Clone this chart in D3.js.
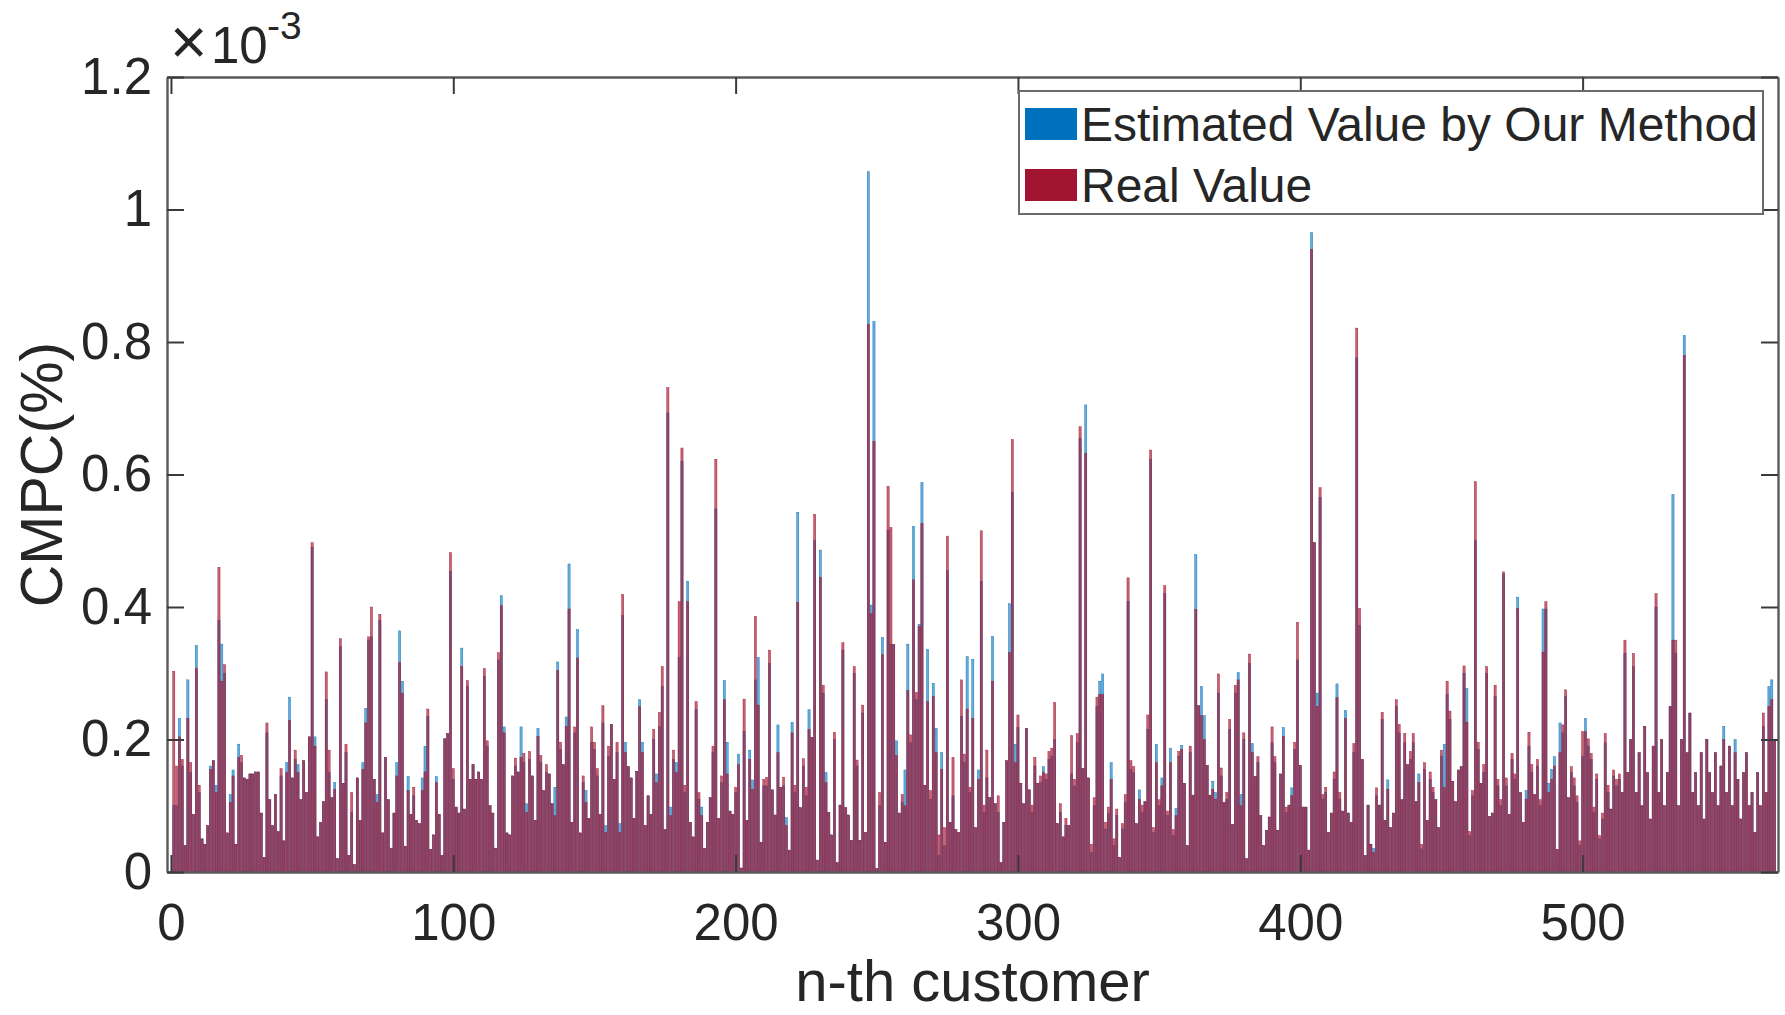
<!DOCTYPE html>
<html><head><meta charset="utf-8">
<script src="https://cdn.jsdelivr.net/npm/d3@7"></script>
<style>
body{margin:0;background:#fff}
svg{display:block}
text{font-family:"Liberation Sans",Arial,Helvetica,sans-serif;fill:#262626}
</style>
</head><body>
<svg id="chart" width="1785" height="1015"></svg>
<script>
// CMPC values (x 10^-3) for customers 1..568
const estimated = [
.10,.10,.232,.16,.04,.29,.15,.087,.342,.12,
.05,.042,.07,.16,.168,.131,.38,.344,.30,.059,
.117,.154,.042,.193,.165,.142,.14,.148,.148,.151,
.151,.089,.022,.21,.109,.07,.117,.061,.145,.047,
.165,.264,.142,.17,.162,.109,.168,.12,.204,.49,
.204,.053,.075,.106,.26,.15,.112,.135,.02,.34,
.134,.18,.025,.09,.011,.142,.078,.165,.247,.35,
.355,.14,.117,.38,.059,.173,.109,.036,.089,.165,
.364,.288,.039,.144,.087,.115,.078,.073,.142,.19,
.235,.034,.056,.144,.087,.025,.201,.209,.454,.14,
.098,.089,.338,.095,.28,.14,.162,.14,.151,.14,
.295,.19,.10,.089,.036,.32,.417,.219,.059,.056,
.145,.16,.151,.219,.165,.103,.17,.145,.078,.217,
.165,.123,.15,.148,.103,.128,.317,.185,.162,.234,
.465,.075,.21,.366,.059,.135,.123,.081,.196,.185,
.145,.087,.225,.07,.175,.223,.14,.18,.073,.387,
.196,.159,.142,.081,.152,.26,.196,.07,.115,.087,
.20,.148,.22,.28,.064,.693,.098,.17,.165,.324,
.62,.12,.439,.075,.053,.245,.11,.098,.036,.075,
.112,.18,.548,.081,.135,.289,.196,.092,.087,.12,
.178,.006,.212,.078,.184,.139,.29,.324,.045,.13,
.13,.315,.124,.086,.222,.128,.13,.082,.033,.226,
.12,.543,.097,.16,.115,.245,.203,.50,.018,.486,
.27,.15,.09,.056,.20,.014,.101,.335,.097,.086,
.048,.30,.16,.048,.24,.06,1.057,.403,.831,.005,
.10,.354,.045,.516,.344,.343,.198,.089,.105,.154,
.344,.195,.522,.26,.374,.588,.131,.336,.11,.285,
.217,.025,.18,.04,.455,.075,.115,.064,.06,.235,
.165,.325,.12,.321,.067,.154,.439,.09,.142,.112,
.356,.103,.09,.014,.075,.168,.405,.573,.193,.218,
.134,.103,.217,.124,.09,.16,.134,.135,.159,.14,
.17,.175,.20,.073,.09,.053,.07,.07,.148,.13,
.195,.654,.156,.705,.142,.03,.10,.25,.288,.299,
.065,.088,.165,.04,.085,.022,.065,.105,.408,.155,
.15,.073,.124,.09,.106,.215,.623,.06,.193,.10,
.142,.42,.085,.187,.055,.096,.175,.191,.134,.04,
.18,.116,.479,.251,.28,.236,.161,.116,.137,.12,
.27,.145,.105,.11,.215,.072,.27,.301,.117,.20,
.02,.315,.194,.144,.165,.085,.04,.063,.083,.195,
.165,.063,.148,.218,.09,.101,.127,.185,.32,.161,
.098,.098,.033,.965,.497,.27,.565,.11,.12,.06,
.089,.14,.284,.11,.092,.244,.089,.075,.18,.776,
.372,.17,.025,.101,.042,.036,.115,.101,.23,.078,
.139,.067,.089,.25,.21,.109,.195,.162,.17,.195,
.106,.148,.035,.155,.078,.14,.12,.109,.067,.175,
.193,.268,.23,.137,.106,.154,.159,.30,.277,.055,
.115,.50,.185,.134,.15,.30,.084,.089,.265,.13,
.10,.45,.13,.087,.17,.14,.415,.12,.075,.123,
.19,.15,.117,.16,.10,.397,.397,.134,.155,.174,
.034,.225,.21,.265,.112,.15,.13,.105,.04,.175,
.232,.19,.17,.09,.14,.05,.08,.195,.12,.095,
.145,.13,.14,.12,.33,.15,.20,.31,.12,.18,
.10,.22,.15,.08,.19,.40,.12,.20,.10,.15,
.25,.57,.33,.10,.20,.81,.18,.24,.12,.15,
.10,.18,.08,.20,.15,.12,.18,.10,.16,.22,
.12,.19,.10,.20,.14,.08,.15,.18,.10,.12,
.06,.15,.10,.22,.12,.28,.29,.20
];
const real = [
.303,.16,.204,.17,.04,.232,.165,.087,.307,.131,
.05,.042,.07,.155,.168,.12,.46,.288,.313,.059,
.105,.145,.042,.173,.176,.142,.14,.148,.148,.151,
.151,.089,.022,.225,.109,.07,.117,.061,.156,.047,
.15,.229,.142,.184,.15,.109,.168,.12,.204,.497,
.19,.053,.075,.106,.302,.184,.112,.125,.02,.352,
.134,.193,.025,.12,.011,.142,.078,.155,.225,.355,
.40,.14,.105,.389,.059,.173,.109,.036,.089,.145,
.316,.27,.039,.123,.087,.128,.078,.073,.123,.151,
.246,.034,.056,.135,.087,.025,.201,.209,.482,.156,
.098,.089,.31,.095,.289,.14,.162,.14,.151,.14,
.307,.198,.10,.089,.036,.331,.402,.21,.059,.056,
.145,.172,.151,.173,.179,.09,.182,.145,.078,.205,
.176,.123,.162,.148,.103,.085,.304,.196,.162,.22,
.397,.075,.219,.323,.059,.145,.105,.081,.219,.196,
.156,.087,.251,.06,.19,.223,.14,.196,.06,.419,
.18,.159,.142,.081,.152,.25,.18,.07,.115,.087,
.215,.135,.241,.31,.064,.731,.085,.184,.15,.408,
.64,.131,.408,.075,.053,.257,.12,.085,.036,.075,
.112,.19,.623,.081,.145,.26,.148,.092,.087,.128,
.162,.006,.261,.078,.17,.125,.386,.252,.045,.14,
.143,.335,.124,.086,.18,.128,.143,.07,.033,.21,
.131,.407,.097,.171,.128,.215,.203,.54,.018,.445,
.282,.135,.09,.056,.211,.014,.101,.346,.097,.086,
.048,.31,.169,.048,.252,.06,.827,.39,.65,.005,
.12,.328,.045,.582,.52,.343,.176,.089,.117,.10,
.274,.207,.441,.271,.371,.526,.131,.257,.123,.265,
.18,.056,.155,.067,.507,.075,.173,.064,.06,.29,
.178,.246,.128,.232,.067,.14,.515,.101,.184,.112,
.288,.103,.115,.014,.075,.168,.331,.653,.165,.237,
.134,.103,.217,.124,.101,.173,.134,.145,.15,.148,
.182,.187,.256,.073,.103,.053,.081,.07,.206,.14,
.209,.672,.156,.632,.142,.042,.112,.264,.268,.268,
.075,.098,.14,.05,.095,.022,.073,.117,.444,.168,
.159,.073,.11,.101,.106,.237,.637,.067,.165,.109,
.13,.432,.092,.165,.064,.085,.182,.185,.134,.04,
.19,.116,.396,.251,.236,.20,.161,.116,.125,.11,
.299,.157,.105,.12,.23,.072,.282,.29,.10,.21,
.02,.329,.18,.144,.174,.085,.04,.063,.083,.219,
.174,.063,.148,.205,.098,.101,.115,.196,.377,.161,
.098,.098,.033,.94,.497,.25,.58,.117,.128,.06,
.089,.151,.263,.12,.092,.232,.089,.075,.194,.821,
.398,.17,.025,.101,.042,.03,.127,.101,.241,.078,
.125,.067,.089,.26,.223,.109,.209,.162,.182,.209,
.106,.135,.042,.165,.078,.151,.128,.109,.067,.184,
.128,.288,.243,.137,.106,.154,.159,.311,.226,.061,
.123,.589,.196,.134,.162,.31,.084,.089,.282,.14,
.109,.453,.142,.087,.179,.148,.398,.12,.075,.11,
.211,.162,.117,.17,.109,.332,.408,.12,.14,.16,
.034,.18,.222,.275,.112,.159,.142,.115,.047,.212,
.212,.201,.179,.098,.148,.055,.089,.209,.131,.095,
.154,.14,.148,.12,.35,.15,.20,.33,.12,.18,
.10,.22,.15,.08,.19,.42,.12,.20,.10,.15,
.25,.35,.35,.10,.20,.78,.18,.24,.12,.15,
.10,.18,.08,.20,.15,.12,.18,.10,.16,.20,
.12,.19,.10,.18,.14,.08,.15,.18,.10,.12,
.06,.15,.10,.24,.12,.25,.26,.20
];
const xTicks = [0, 100, 200, 300, 400, 500];
const yTicks = [0, 0.2, 0.4, 0.6, 0.8, 1, 1.2];
const yTickLabels = ["0", "0.2", "0.4", "0.6", "0.8", "1", "1.2"];
const seriesNames = ["Estimated Value by Our Method", "Real Value"];
const seriesColors = ["#0072BD", "#A2142F"];

const svg = d3.select("#chart");
const L = 167, R = 1778, T = 77, B = 872;
const x = d3.scaleLinear().domain([-1.4, 569.2]).range([L, R]);
const y = d3.scaleLinear().domain([0, 1.2]).range([B, T]);
const step = x(1) - x(0);
const bw = step * 0.78;

const data = estimated.map((e, i) => ({i: i + 1, est: e, real: real[i]}));

const gBars = svg.append("g");
gBars.selectAll("rect.est").data(data).join("rect")
  .attr("class", "est")
  .attr("x", d => x(d.i) - bw / 2).attr("width", bw)
  .attr("y", d => y(d.est)).attr("height", d => y(0) - y(d.est))
  .attr("fill", seriesColors[0]).attr("fill-opacity", 0.6)
  .attr("stroke", seriesColors[0]).attr("stroke-width", 0.4);
gBars.selectAll("rect.real").data(data).join("rect")
  .attr("class", "real")
  .attr("x", d => x(d.i) - bw / 2).attr("width", bw)
  .attr("y", d => y(d.real)).attr("height", d => y(0) - y(d.real))
  .attr("fill", seriesColors[1]).attr("fill-opacity", 0.66)
  .attr("stroke", seriesColors[1]).attr("stroke-width", 0.4);

const axisColor = "#5a5a5a";
function styleAxis(g) {
  g.selectAll("path.domain").attr("stroke", axisColor).attr("stroke-width", 2.4);
  g.selectAll(".tick line").attr("stroke", "#3a3a3a").attr("stroke-width", 2);
  g.selectAll(".tick text").attr("fill", "#1a1a1a")
    .style("font-family", '"Liberation Sans", Arial, sans-serif').style("font-size", "51px");
}
svg.append("g").attr("transform", `translate(0,${B})`)
  .call(d3.axisBottom(x).tickValues(xTicks).tickSizeInner(-17).tickSizeOuter(0).tickPadding(32))
  .call(styleAxis);
svg.append("g").attr("transform", `translate(0,${T})`)
  .call(d3.axisTop(x).tickValues(xTicks).tickSizeInner(-17).tickSizeOuter(0).tickFormat(""))
  .call(styleAxis);
svg.append("g").attr("transform", `translate(${L},0)`)
  .call(d3.axisLeft(y).tickValues(yTicks).tickSizeInner(-17).tickSizeOuter(0).tickPadding(15)
    .tickFormat((d, i) => yTickLabels[i]))
  .call(styleAxis);
svg.append("g").attr("transform", `translate(${R},0)`)
  .call(d3.axisRight(y).tickValues(yTicks).tickSizeInner(-17).tickSizeOuter(0).tickFormat(""))
  .call(styleAxis);

// exponent label
svg.append("text").attr("x", 170).attr("y", 64).style("font-size", "64px").attr("fill", "#1a1a1a").text("×");
svg.append("text").attr("x", 211).attr("y", 63).style("font-size", "51px").attr("fill", "#1a1a1a").text("10");
svg.append("text").attr("x", 267).attr("y", 39).style("font-size", "39px").attr("fill", "#1a1a1a").text("-3");

// axis labels
svg.append("text").attr("x", (L + R) / 2).attr("y", 1001).attr("text-anchor", "middle")
  .style("font-size", "58px").attr("fill", "#1a1a1a").text("n-th customer");
svg.append("text").attr("transform", `translate(62,${(T + B) / 2}) rotate(-90)`).attr("text-anchor", "middle")
  .style("font-size", "59px").attr("fill", "#1a1a1a").text("CMPC(%)");

// legend
const lg = svg.append("g");
lg.append("rect").attr("x", 1019).attr("y", 91).attr("width", 744).attr("height", 123)
  .attr("fill", "#fff").attr("stroke", "#6a6a6a").attr("stroke-width", 2);
seriesNames.forEach((name, k) => {
  const cy = 124 + k * 61;
  lg.append("rect").attr("x", 1025).attr("y", cy - 16).attr("width", 52).attr("height", 32)
    .attr("fill", seriesColors[k]);
  lg.append("text").attr("x", 1081).attr("y", cy + 17).style("font-size", "48px")
    .attr("fill", "#111").text(name);
});
</script>
</body></html>
